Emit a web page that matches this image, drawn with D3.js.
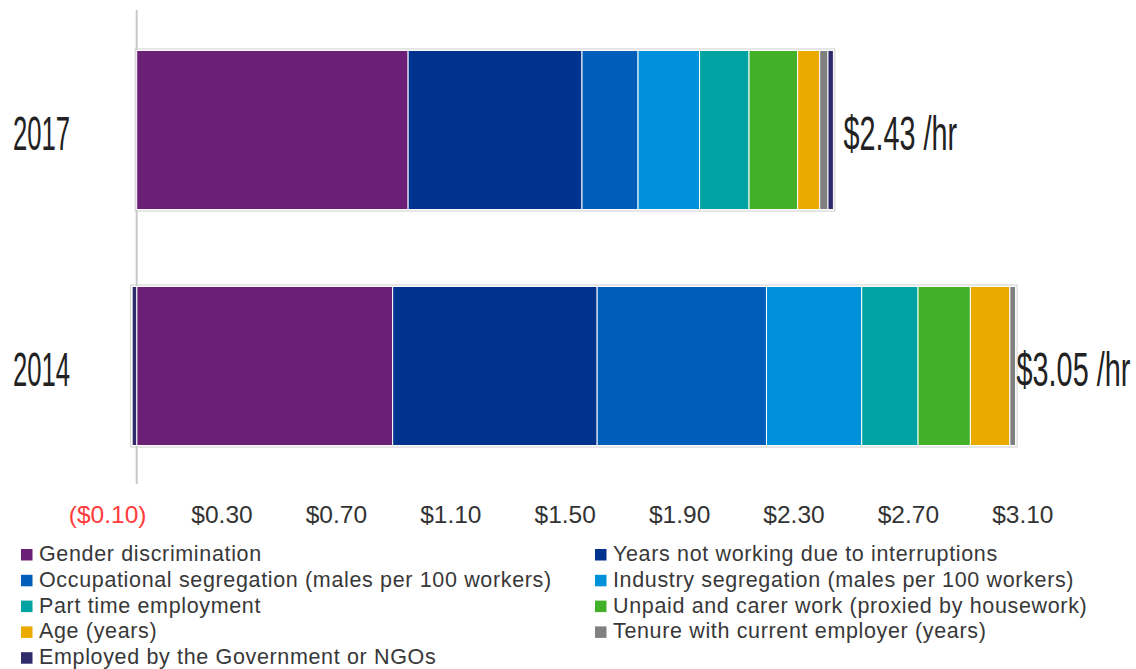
<!DOCTYPE html>
<html>
<head>
<meta charset="utf-8">
<script src="https://cdn.jsdelivr.net/npm/d3@7"></script>
<style>
  html, body { margin: 0; padding: 0; background: #fff; }
  svg { display: block; }
  text { font-family: "Liberation Sans", Arial, sans-serif; }
</style>
</head>
<body>
<svg id="chart" width="1136" height="669"></svg>
<script>
// ---- data ----
const years = ["2017", "2014"];
const factors = [
  "Gender discrimination",
  "Years not working due to interruptions",
  "Occupational segregation (males per 100 workers)",
  "Industry segregation (males per 100 workers)",
  "Part time employment",
  "Unpaid and carer work (proxied by housework)",
  "Age (years)",
  "Tenure with current employer (years)",
  "Employed by the Government or NGOs"
];
const colors = ["#6c1f77", "#00338d", "#005eb8", "#0091da", "#00a3a1", "#43b02a", "#eaaa00", "#808080", "#2e2a6b"];
const values2017 = [0.949, 0.608, 0.196, 0.215, 0.173, 0.170, 0.077, 0.029, 0.019];
const values2014 = [0.895, 0.715, 0.592, 0.333, 0.197, 0.183, 0.138, 0.020, -0.016];
const totalLabels = ["$2.43 /hr", "$3.05 /hr"];
const tickValues = [-0.10, 0.30, 0.70, 1.10, 1.50, 1.90, 2.30, 2.70, 3.10];

// ---- build table ----
const seriesByYear = [values2017, values2014];
const table = years.map((y, i) => {
  const row = { year: y };
  factors.forEach((f, j) => row[f] = seriesByYear[i][j]);
  return row;
});

const svg = d3.select("#chart");
const x = d3.scaleLinear().domain([-0.1, 3.1]).range([108.1, 1023.3]);
const y = d3.scaleBand().domain(years).range([12, 484]).paddingInner(0.326).paddingOuter(0.163);

const stack = d3.stack().keys(factors).offset(d3.stackOffsetDiverging);
const series = stack(table);

// zero axis line
svg.append("line")
  .attr("x1", x(0)).attr("x2", x(0))
  .attr("y1", 10).attr("y2", 484)
  .attr("stroke", "#c8c8c8").attr("stroke-width", 2);

// outline around each bar
table.forEach((row, i) => {
  const vals = seriesByYear[i];
  const neg = d3.sum(vals.filter(v => v < 0));
  const pos = d3.sum(vals.filter(v => v > 0));
  svg.append("rect")
    .attr("x", x(neg) - 1.5)
    .attr("y", y(row.year) - 1.5)
    .attr("width", x(pos) - x(neg) + 3)
    .attr("height", y.bandwidth() + 3)
    .attr("fill", "none")
    .attr("stroke", "#cfcfcf")
    .attr("stroke-width", 1);
});

// segments
svg.append("g").selectAll("g")
  .data(series)
  .join("g")
  .attr("fill", (d, i) => colors[i])
  .selectAll("rect")
  .data(d => d)
  .join("rect")
  .attr("x", d => x(Math.min(d[0], d[1])))
  .attr("y", d => y(d.data.year))
  .attr("width", d => Math.abs(x(d[1]) - x(d[0])))
  .attr("height", y.bandwidth())
  .attr("stroke", "#ffffff")
  .attr("stroke-width", 1);

// year labels
svg.append("g").selectAll("text")
  .data(years)
  .join("text")
  .attr("transform", d => `translate(13, ${y(d) + y.bandwidth() / 2 + 20}) scale(0.535, 1)`)
  .attr("font-size", 48)
  .attr("fill", "#222222")
  .text(d => d);

// total labels
const labelGap = [10, 1];
svg.append("g").selectAll("text")
  .data(years)
  .join("text")
  .attr("transform", (d, i) => {
    const pos = d3.sum(seriesByYear[i].filter(v => v > 0));
    return `translate(${x(pos) + labelGap[i]}, ${y(d) + y.bandwidth() / 2 + 20}) scale(0.6, 1)`;
  })
  .attr("font-size", 48)
  .attr("fill", "#222222")
  .text((d, i) => totalLabels[i]);

// x axis tick labels
const fmt = v => v < 0 ? `($${Math.abs(v).toFixed(2)})` : `$${v.toFixed(2)}`;
const axis = d3.axisBottom(x).tickValues(tickValues).tickFormat(fmt).tickSize(0).tickPadding(0);
const gx = svg.append("g").attr("transform", "translate(-1, 506)").call(axis);
gx.select(".domain").remove();
gx.selectAll("text")
  .attr("font-size", 24.5)
  .attr("font-family", "'Liberation Sans', Arial, sans-serif")
  .attr("dy", "0.71em")
  .attr("fill", d => d < 0 ? "#ff3b3b" : "#333333");

// legend
const legend = svg.append("g");
const colX = [21, 595];
factors.forEach((f, i) => {
  const col = i % 2, row = Math.floor(i / 2);
  const gy = 549 + row * 25.8;
  legend.append("rect")
    .attr("x", colX[col]).attr("y", gy)
    .attr("width", 11.5).attr("height", 11.5)
    .attr("fill", colors[i]);
  legend.append("text")
    .attr("x", colX[col] + 18)
    .attr("y", gy + 12)
    .attr("font-size", 21.5)
    .attr("letter-spacing", 0.65)
    .attr("fill", "#383838")
    .text(f);
});
</script>
</body>
</html>
